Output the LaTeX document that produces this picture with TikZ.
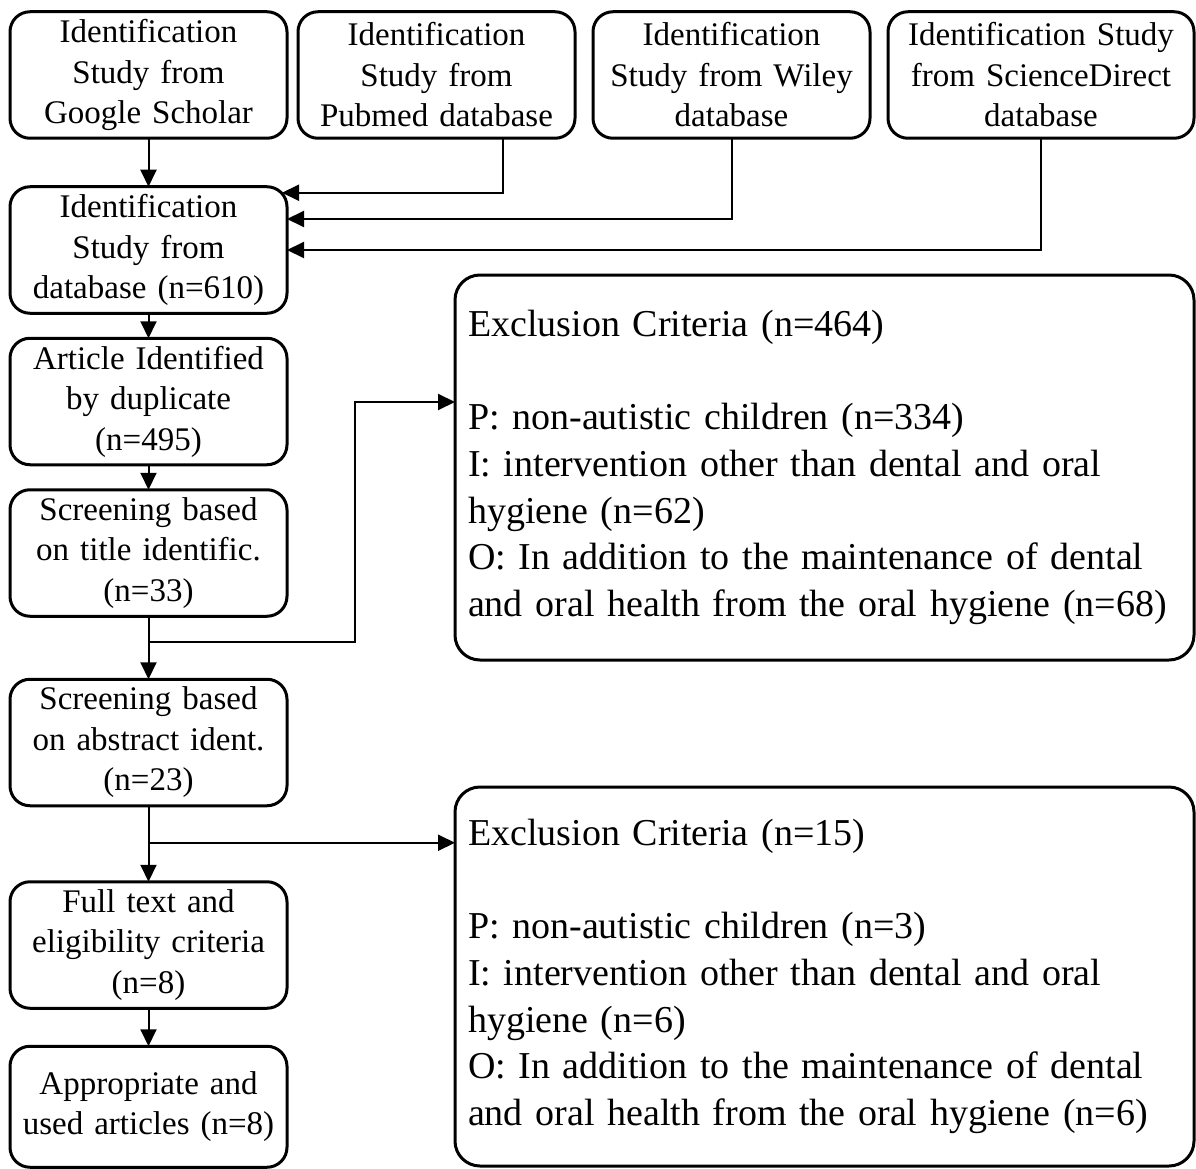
\documentclass[tikz,border=0pt]{standalone}
\usepackage{fontspec}
\setmainfont{Liberation Serif}
\usetikzlibrary{positioning, arrows.meta}

\begin{document}
\begin{tikzpicture}[
  box/.style={draw, rectangle, rounded corners=20pt, line width=3pt, outer sep=0pt,
              text centered, inner xsep=6pt, inner ysep=0pt, text width=265pt,
              minimum height=126.5pt, font=\fontsize{33}{40.5}\selectfont},
  exbox/.style={draw, rectangle, rounded corners=25pt, line width=3pt, outer sep=0pt,
                anchor=north west, align=left, inner xsep=13pt, text width=713pt,
                font=\fontsize{38}{46.7}\selectfont},
  arr/.style={-{Triangle[length=17pt, width=16pt]}, line width=2pt}
]
  \useasboundingbox (0,0) rectangle (1196pt,-1169pt);
  % sources
  \node[box] (gs) at (148.5pt,-75pt) {Identification\\Study from\\Google Scholar};
  \node[box, right=11pt of gs]  (pub) {Identification\\Study from\\Pubmed database};
  \node[box, right=18pt of pub] (wil) {Identification\\Study from Wiley\\database};
  \node[box, right=18pt of wil, text width=294pt] (sci) {Identification Study\\from ScienceDirect\\database};
  % main column
  \node[box, below=48.5pt of gs] (db)   {Identification\\Study from\\database (n=610)};
  \node[box, below=25pt of db]   (dup)  {Article Identified\\by duplicate\\(n=495)};
  \node[box, below=25pt of dup]  (ttl)  {Screening based\\on title identific.\\(n=33)};
  \node[box, below=63pt of ttl]  (abs)  {Screening based\\on abstract ident.\\(n=23)};
  \node[box, below=76pt of abs]  (full) {Full text and\\eligibility criteria\\(n=8)};
  \node[box, below=38pt of full, minimum height=121pt] (used) {Appropriate and\\used articles (n=8)};
  % exclusions
  \node[exbox, minimum height=385pt] (ex1) at (455pt,-275pt)
    {Exclusion Criteria (n=464)\\[46.7pt]
     P: non-autistic children (n=334)\\
     I: intervention other than dental and oral\\
     hygiene (n=62)\\
     O: In addition to the maintenance of dental\\
     and oral health from the oral hygiene (n=68)};
  \node[exbox, minimum height=379pt] (ex2) at (455pt,-787pt)
    {Exclusion Criteria (n=15)\\[46.7pt]
     P: non-autistic children (n=3)\\
     I: intervention other than dental and oral\\
     hygiene (n=6)\\
     O: In addition to the maintenance of dental\\
     and oral health from the oral hygiene (n=6)};
  \coordinate[below=26pt of ttl] (j1);
  \coordinate[above left=65.5pt and 100pt of ex1.west] (k1);
  \coordinate[below=37pt of abs] (j2);
  % connectors
  \draw[arr] (gs) -- (db);
  \draw[arr] ([xshift=66.5pt]pub.south) |- ([xshift=-5pt, yshift=-6pt]db.north east);
  \draw[arr] (wil.south) |- ([yshift=31pt]db.east);
  \draw[arr] (sci.south) |- (db.east);
  \draw[arr] (db) -- (dup);
  \draw[arr] (dup) -- (ttl);
  \draw[arr] (ttl) -- (abs);
  \draw[arr] (j1) -| (k1) -- (k1 -| ex1.west);
  \draw[arr] (abs) -- (full);
  \draw[arr] (j2) -- (j2 -| ex2.west);
  \draw[arr] (full) -- (used);
\end{tikzpicture}
\end{document}
